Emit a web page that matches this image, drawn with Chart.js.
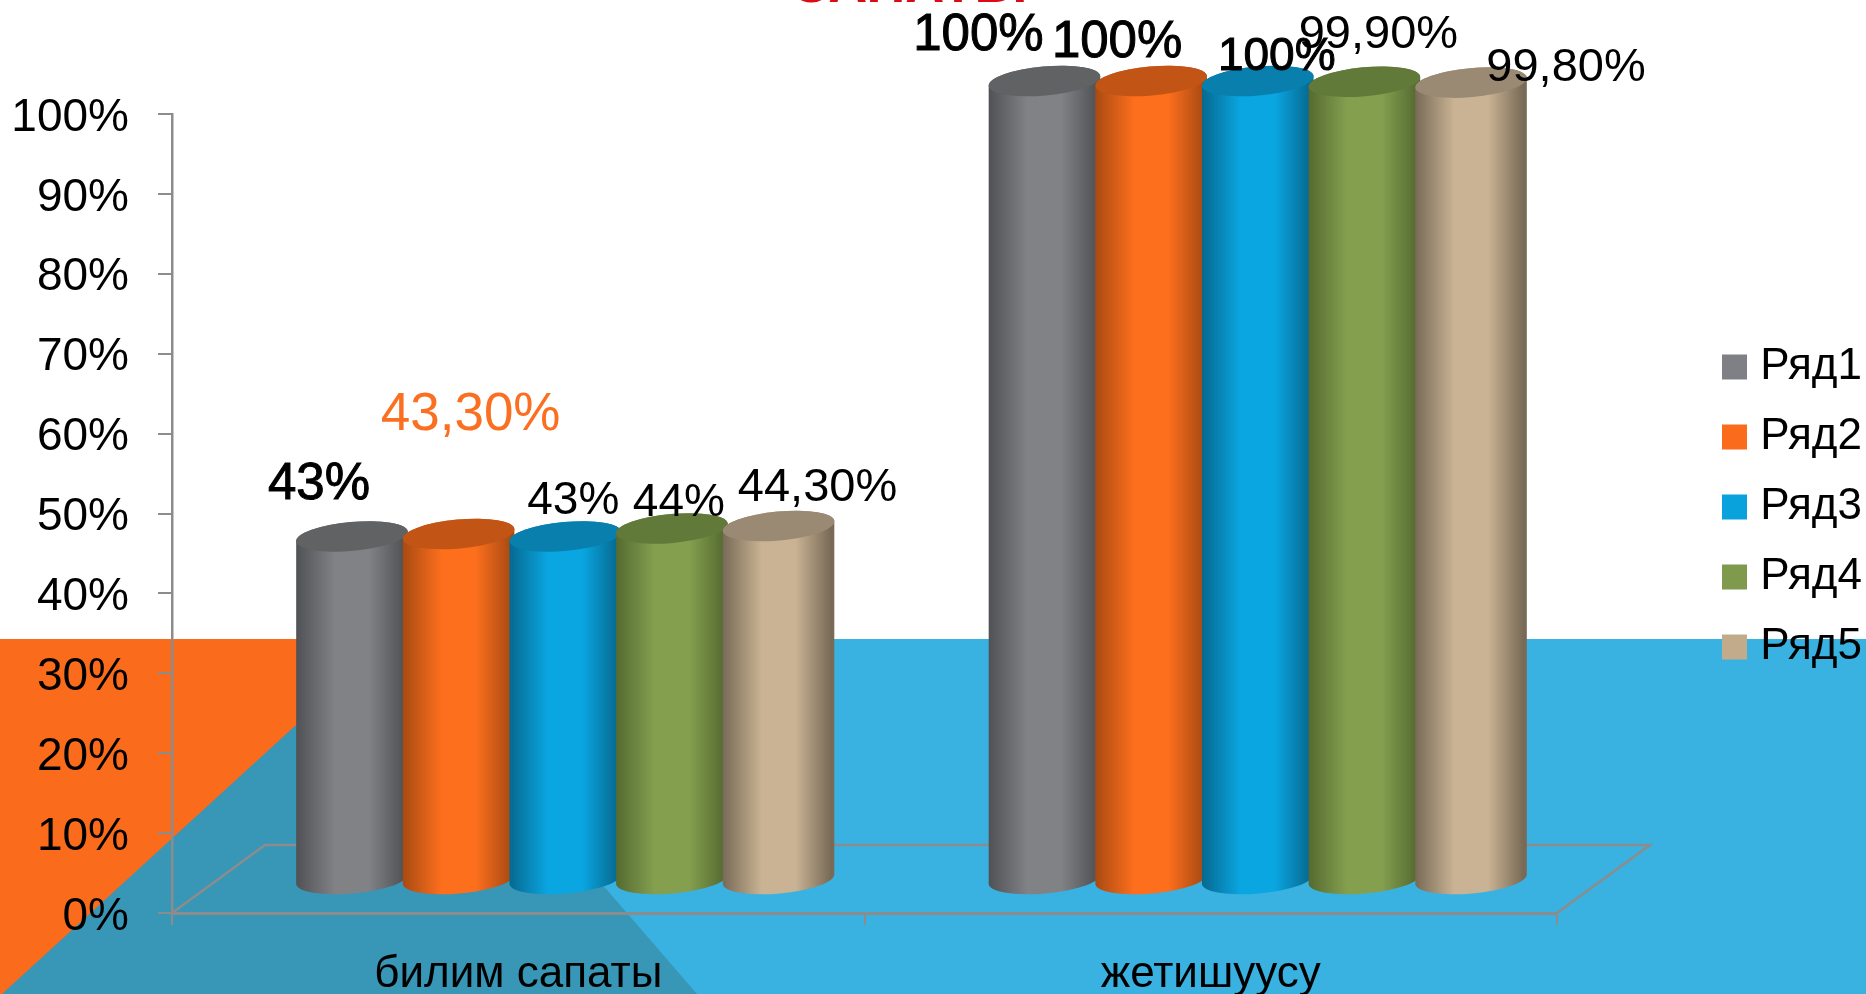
<!DOCTYPE html>
<html>
<head>
<meta charset="utf-8">
<title>билим сапаты</title>
<script src="https://cdn.jsdelivr.net/npm/chart.js@4/dist/chart.umd.js"></script>
<style>
  html, body { margin: 0; padding: 0; background: #fff; overflow: hidden; }
  #wrap { width: 1866px; height: 994px; }
</style>
</head>
<body>
<div id="wrap"><canvas id="chart" width="1866" height="994"></canvas></div>
<script>
// Data
const categories = ['билим сапаты', 'жетишуусу'];
const seriesNames = ['Ряд1', 'Ряд2', 'Ряд3', 'Ряд4', 'Ряд5'];
const row1 = [43, 100];
const row2 = [43.3, 100];
const row3 = [43, 100];
const row4 = [44, 99.9];
const row5 = [44.3, 99.8];
const seriesValues = [row1, row2, row3, row4, row5];
const valueLabels = [
  ['43%', '100%'],
  ['43,30%', '100%'],
  ['43%', '100%'],
  ['44%', '99,90%'],
  ['44,30%', '99,80%']
];
const yTicks = [0, 10, 20, 30, 40, 50, 60, 70, 80, 90, 100];

// Colours
const bodyColors = ['#808285', '#fd6f1d', '#0aa6e2', '#84a04f', '#c9b394'];
const edgeColors = ['#4f5154', '#a84a12', '#06698f', '#556a30', '#786a56'];
const capColors = ['#606264', '#c25515', '#087fac', '#627a39', '#9a8a73'];
const legendColors = ['#7f8085', '#fb6b1c', '#0aa2dc', '#7f9a4c', '#c2ab8b'];

// Hand placed data labels: offset from the top of the cylinder, per category
const labelOffsets = [
  [[-33, -51], [-66, -45]],
  [[12, -119], [-34, -38]],
  [[8, -35], [19, -24]],
  [[7, -25], [14, -47]],
  [[39, -38], [95, -15]]
];
const labelSizes = [[51, 51], [53, 51], [46, 46], [46, 47], [47, 47]];
const labelStroke = [[1, 1], [0, 1], [0, 1], [0, 0], [0, 0]];
const labelColors = [['#000', '#000'], ['#fb6f21', '#000'], ['#000', '#000'], ['#000', '#000'], ['#000', '#000']];

const FONT = '"Liberation Sans", Arial, sans-serif';
const AXIS_GRAY = '#8c8c8c';

// 3D look: the floor goes back by depth, bars stand in the middle of it
const depth = { x: 93, y: 68 };
const barShift = { x: 47, y: 33 };
const tilt = -0.09;
const capRy = 14.5;

const backdrop = {
  id: 'backdrop',
  beforeDraw(chart) {
    const { ctx, width, height } = chart;
    const top = 639, apex = 390;
    ctx.save();
    ctx.fillStyle = '#fff';
    ctx.fillRect(0, 0, width, height);
    ctx.fillStyle = '#39b2e1';
    ctx.fillRect(apex, top, width - apex, height - top);
    ctx.fillStyle = '#fb6b1c';
    ctx.fillRect(0, top, apex, height - top);
    ctx.fillStyle = '#3896b6';
    ctx.beginPath();
    ctx.moveTo(apex, top);
    ctx.lineTo(697, height);
    ctx.lineTo(2, height);
    ctx.closePath();
    ctx.fill();
    ctx.restore();
  },
  // floor outline behind the bars
  beforeDatasetsDraw(chart) {
    const { ctx, chartArea: a } = chart;
    ctx.save();
    ctx.strokeStyle = AXIS_GRAY;
    ctx.lineWidth = 2.5;
    ctx.beginPath();
    ctx.moveTo(a.left, a.bottom);
    ctx.lineTo(a.left + depth.x, a.bottom - depth.y);
    ctx.lineTo(a.right + depth.x, a.bottom - depth.y);
    ctx.lineTo(a.right, a.bottom);
    ctx.stroke();
    ctx.restore();
  }
};

function drawCylinder(ctx, el, i) {
  const w = 112;
  const cx = el.x + barShift.x;
  const topY = el.y - barShift.y;
  const botY = el.base - barShift.y;
  const rx = w / 2;

  const grad = ctx.createLinearGradient(cx - rx, 0, cx + rx, 0);
  grad.addColorStop(0, edgeColors[i]);
  grad.addColorStop(0.35, bodyColors[i]);
  grad.addColorStop(0.65, bodyColors[i]);
  grad.addColorStop(0.97, edgeColors[i]);
  grad.addColorStop(1, edgeColors[i]);

  ctx.beginPath();
  ctx.ellipse(cx, botY, rx, capRy, tilt, 0, Math.PI);
  ctx.ellipse(cx, topY, rx, capRy, tilt, Math.PI, Math.PI * 2);
  ctx.closePath();
  ctx.fillStyle = grad;
  ctx.fill();

  ctx.beginPath();
  ctx.ellipse(cx, topY, rx, capRy, tilt, 0, Math.PI * 2);
  ctx.fillStyle = capColors[i];
  ctx.fill();
}

const cylinders = {
  id: 'cylinders',
  // skip the flat bars, they are painted as cylinders below
  beforeDatasetDraw() {
    return false;
  },
  afterDatasetsDraw(chart) {
    const { ctx } = chart;
    ctx.save();
    seriesNames.forEach((name, i) => {
      chart.getDatasetMeta(i).data.forEach(el => drawCylinder(ctx, el, i));
    });

    // data labels
    ctx.textAlign = 'center';
    ctx.textBaseline = 'middle';
    seriesNames.forEach((name, i) => {
      chart.getDatasetMeta(i).data.forEach((el, c) => {
        const x = el.x + barShift.x + labelOffsets[i][c][0];
        const y = el.y - barShift.y + labelOffsets[i][c][1];
        ctx.font = labelSizes[i][c] + 'px ' + FONT;
        ctx.fillStyle = labelColors[i][c];
        ctx.fillText(valueLabels[i][c], x, y);
        if (labelStroke[i][c]) {
          ctx.strokeStyle = labelColors[i][c];
          ctx.lineWidth = labelStroke[i][c];
          ctx.strokeText(valueLabels[i][c], x, y);
        }
      });
    });

    // title is cut off by the top of the picture
    ctx.font = 'bold 54px ' + FONT;
    ctx.fillStyle = '#dc0a14';
    ctx.textBaseline = 'alphabetic';
    ctx.fillText('САПАТЫ', 909, 2);
    ctx.restore();
  },
  // legend sits far right of the floor, not next to the plot
  afterLayout(chart) {
    const lg = chart.legend;
    lg.left = 1696;
    lg.right = 1862;
    lg.top = 319;
    lg.bottom = 994;
    lg.width = lg.right - lg.left;
    lg.height = lg.bottom - lg.top;
  }
};

const datasets = seriesNames.map((name, i) => ({
  label: name,
  data: seriesValues[i],
  backgroundColor: legendColors[i],
  categoryPercentage: 0.77,
  barPercentage: 1
}));

new Chart(document.getElementById('chart').getContext('2d'), {
  type: 'bar',
  data: { labels: categories, datasets },
  plugins: [backdrop, cylinders],
  options: {
    responsive: false,
    animation: false,
    layout: { padding: { top: 114, right: 309, left: 0, bottom: 0 } },
    plugins: {
      title: { display: false },
      tooltip: { enabled: false },
      legend: {
        position: 'chartArea',
        align: 'start',
        labels: {
          boxWidth: 25,
          boxHeight: 25,
          padding: 26,
          color: '#000',
          textAlign: 'right',
          font: { family: FONT, size: 44 },
          generateLabels: () => seriesNames.map((name, i) => ({
            text: name,
            fillStyle: legendColors[i],
            strokeStyle: legendColors[i],
            lineWidth: 0,
            textAlign: 'right',
            datasetIndex: i
          }))
        }
      }
    },
    scales: {
      x: {
        afterFit: s => { s.height = 81; },
        grid: {
          offset: true,
          drawOnChartArea: false,
          color: AXIS_GRAY,
          lineWidth: 2,
          tickLength: 12
        },
        border: { color: AXIS_GRAY, width: 3 },
        ticks: {
          color: '#000',
          padding: 23,
          maxRotation: 0,
          font: { family: FONT, size: 44 }
        }
      },
      y: {
        min: 0,
        max: 100,
        afterFit: s => { s.width = 172; },
        afterBuildTicks: s => { s.ticks = yTicks.map(v => ({ value: v })); },
        grid: {
          drawOnChartArea: false,
          color: AXIS_GRAY,
          lineWidth: 2,
          tickLength: 14
        },
        border: { color: AXIS_GRAY, width: 2.5 },
        ticks: {
          color: '#000',
          padding: 29,
          labelOffset: 4,
          font: { family: FONT, size: 46 },
          callback: v => v + '%'
        }
      }
    }
  }
});
</script>
</body>
</html>
